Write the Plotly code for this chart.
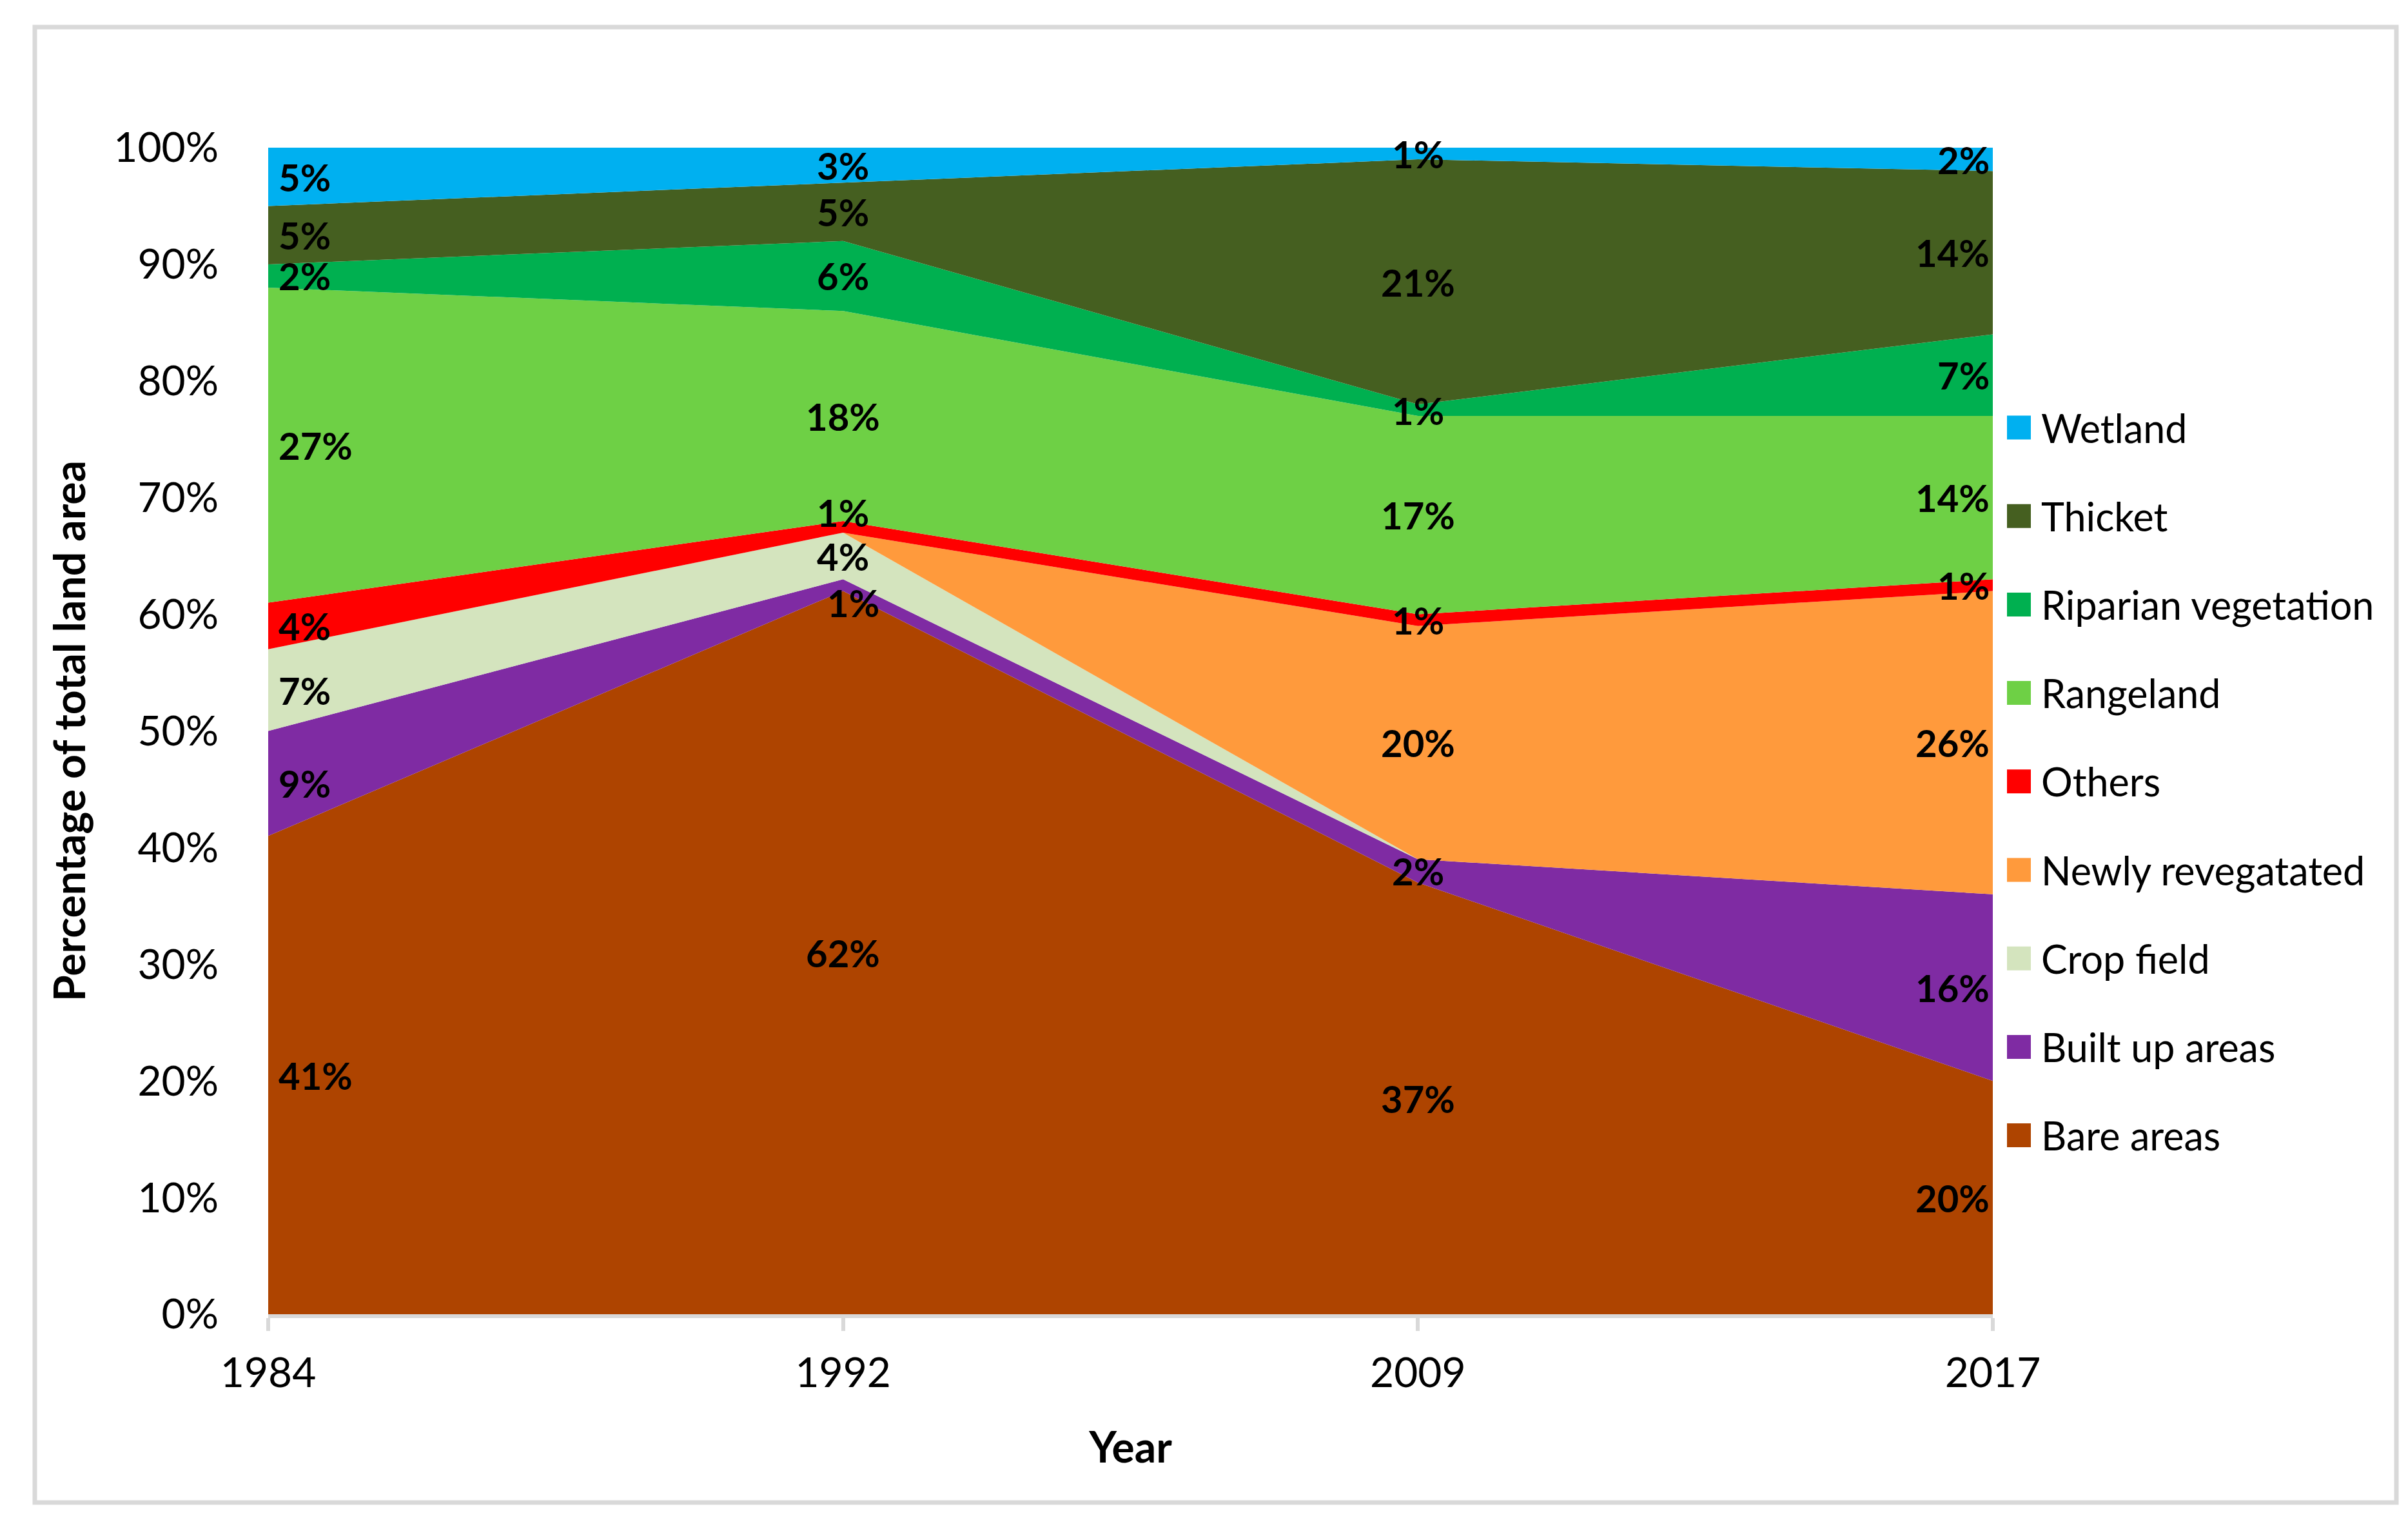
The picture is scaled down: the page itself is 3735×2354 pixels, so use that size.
import plotly.graph_objects as go

# ---------------- data ----------------
years = ["1984", "1992", "2009", "2017"]

series_names = [
    "Bare areas", "Built up areas", "Crop field", "Newly revegatated", "Others",
    "Rangeland", "Riparian vegetation", "Thicket", "Wetland",
]
bare_areas = [41, 62, 37, 20]
built_up_areas = [9, 1, 2, 16]
crop_field = [7, 4, 0, 0]
newly_revegetated = [0, 0, 20, 26]
others = [4, 1, 1, 1]
rangeland = [27, 18, 17, 14]
riparian_vegetation = [2, 6, 1, 7]
thicket = [5, 5, 21, 14]
wetland = [5, 3, 1, 2]

series_values = [bare_areas, built_up_areas, crop_field, newly_revegetated, others,
                 rangeland, riparian_vegetation, thicket, wetland]
series_colors = ["#AE4400", "#7F2BA3", "#D4E4BE", "#FF9A3C", "#FF0000",
                 "#6ED045", "#00B050", "#455F20", "#00B0F0"]

y_tick_values = [0, 10, 20, 30, 40, 50, 60, 70, 80, 90, 100]
y_tick_labels = ["0%", "10%", "20%", "30%", "40%", "50%", "60%", "70%", "80%", "90%", "100%"]

# ---------------- layout constants (pixels) ----------------
W, H = 3735, 2354
L, R, T, B = 408, 3083, 221, 2030
FONT = "Lato"
GRAY = "#D9D9D9"


def px2x(px):
    return (px - L) / (R - L)


def py2y(py):
    return (B - py) / (B - T)


# manual label nudges (pixels: dx right, dy up)
label_nudge = {("Others", "1992"): (0, 22), ("Built up areas", "1992"): (16, -27)}

fig = go.Figure()
for name, vals, col in zip(series_names, series_values, series_colors):
    fig.add_trace(go.Scatter(
        x=years, y=vals, name=name, stackgroup="one", mode="none",
        fillcolor=col, line=dict(width=0), showlegend=False,
    ))

# data labels (x given as category index)
annotations = []
for i, yr in enumerate(years):
    base = 0
    for name, vals in zip(series_names, series_values):
        v = vals[i]
        mid = base + v / 2
        base += v
        if v == 0:
            continue
        if i == 0:
            xanchor, xs = "left", 14
        elif i == len(years) - 1:
            xanchor, xs = "right", -3
        else:
            xanchor, xs = "center", 0
        dx, dy = label_nudge.get((name, yr), (0, 0))
        annotations.append(dict(
            x=i, y=mid, xref="x", yref="y", text=f"{v}%", showarrow=False,
            xanchor=xanchor, yanchor="middle", xshift=xs + dx, yshift=dy,
            font=dict(family=FONT, size=58, color="black", weight="bold"),
        ))

# manual legend (top-to-bottom = reverse stacking order)
shapes = []
leg_top = 655
leg_step = 137.2
for k, (name, col) in enumerate(zip(series_names[::-1], series_colors[::-1])):
    cy = leg_top + k * leg_step
    shapes.append(dict(type="rect", xref="paper", yref="paper",
                       x0=px2x(3105), x1=px2x(3142), y0=py2y(cy + 18.5), y1=py2y(cy - 18.5),
                       fillcolor=col, line=dict(width=0)))
    annotations.append(dict(
        x=px2x(3156), y=py2y(cy), xref="paper", yref="paper", text=name,
        showarrow=False, xanchor="left", yanchor="middle",
        font=dict(family=FONT, size=61, color="black"),
    ))

# chart border
shapes.append(dict(type="rect", xref="paper", yref="paper",
                   x0=px2x(46), x1=px2x(3709), y0=py2y(2322), y1=py2y(34),
                   line=dict(color=GRAY, width=7), fillcolor="rgba(0,0,0,0)", layer="below"))

fig.update_layout(
    width=W, height=H, autosize=False,
    margin=dict(l=L, r=W - R, t=T, b=H - B, pad=0),
    paper_bgcolor="white", plot_bgcolor="white",
    showlegend=False,
    annotations=annotations, shapes=shapes,
    xaxis=dict(
        type="category", range=[0, 3], showgrid=False, zeroline=False,
        showline=True, linecolor=GRAY, linewidth=6,
        ticks="outside", ticklen=20, tickwidth=6, tickcolor=GRAY,
        tickfont=dict(family=FONT, size=64, color="black"),
        ticklabelstandoff=10, automargin=False,
        title=dict(text="Year", standoff=60,
                   font=dict(family=FONT, size=66, color="black", weight="bold")),
    ),
    yaxis=dict(
        range=[0, 100], tickvals=y_tick_values, ticktext=y_tick_labels,
        showgrid=False, zeroline=False, showline=False, ticks="",
        tickfont=dict(family=FONT, size=64, color="black"),
        ticklabelstandoff=76, automargin=False,
        title=dict(text="Percentage of total land area", standoff=22,
                   font=dict(family=FONT, size=66, color="black", weight="bold")),
    ),
)

fig.write_html("out.html")
